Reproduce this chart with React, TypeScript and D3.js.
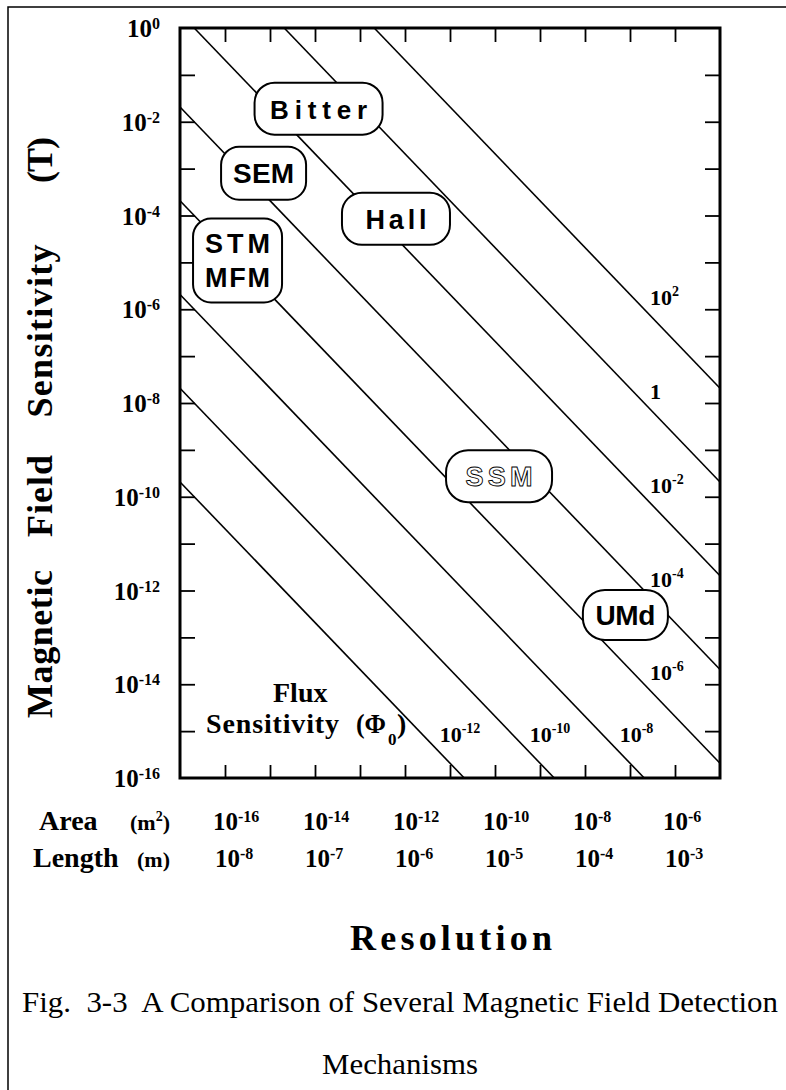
import React, { useEffect, useRef } from 'react';
import * as d3 from 'd3';

// flux levels, in units of the flux quantum
const fluxLevels = [1e2, 1, 1e-2, 1e-4, 1e-6, 1e-8, 1e-10, 1e-12];
const fluxExponents = ['2', '', '-2', '-4', '-6', '-8', '-10', '-12'];
const PHI0 = 2.07e-15;

const fieldTickExponents = [0, -2, -4, -6, -8, -10, -12, -14, -16];
const areaTickExponents = [-16, -14, -12, -10, -8, -6];
const lengthTickExponents = [-8, -7, -6, -5, -4, -3];

// detection mechanisms: resolution (area, m^2) and sensitivity (T)
const mechanisms = ['Bitter', 'SEM', 'Hall', 'STM MFM', 'SSM', 'UMd'];
const mechanismArea = [1.2e-14, 7.2e-16, 6.3e-13, 1.9e-16, 1.23e-10, 7.9e-8];
const mechanismField = [1.9e-2, 8e-4, 8.5e-5, 1.1e-5, 2.75e-10, 3e-13];

const W = 786;
const H = 1090;
const plot = { left: 180, top: 28, right: 720, bottom: 778 };
const serif = "'Liberation Serif', 'Times New Roman', serif";
const sans = "'Liberation Sans', Arial, sans-serif";

const boxStyle: Record<string, any> = {
	Bitter: { w: 128, h: 52, r: 20, size: 26, len: 97 },
	SEM: { w: 85, h: 53, r: 18, size: 28, len: 61 },
	Hall: { w: 108, h: 52, r: 20, size: 27, len: 61 },
	'STM MFM': { w: 89, h: 84, r: 18, size: 27, len: 65 },
	SSM: { w: 106, h: 52, r: 22, size: 27, len: 67, outline: true },
	UMd: { w: 85, h: 50, r: 22, size: 28, len: 60 },
};

const power = (sel: any, exp: string, base: number, sup: number, rise: number) => {
	sel.append('tspan').attr('font-size', base).text('10');
	sel.append('tspan').attr('font-size', sup).attr('dy', -rise).text(exp);
};

const drawChart = (el: SVGSVGElement) => {
	const svg = d3.select(el);

	svg.selectAll('*').remove();
	svg.attr('width', W).attr('height', H);
	svg.append('rect').attr('width', W).attr('height', H).attr('fill', '#fff');

	const x = d3.scaleLog().domain([1e-17, 1e-5]).range([plot.left, plot.right]);
	const y = d3.scaleLog().domain([1, 1e-16]).range([plot.top, plot.bottom]);

	// page frame
	svg.append('path')
		.attr('d', `M8,${ H } V7 H${ W }`)
		.attr('fill', 'none')
		.attr('stroke', '#000')
		.attr('stroke-width', 1.5);

	// constant flux lines
	const [aMin, aMax] = x.domain();
	const [bMax, bMin] = y.domain();
	const ends = (n: number) => {
		const f = n * PHI0;
		const a0 = Math.max(aMin, f / bMax);
		const a1 = Math.min(aMax, f / bMin);

		return [[a0, f / a0], [a1, f / a1]];
	};
	const line = d3.line<number[]>().x((d) => x(d[0]))
		.y((d) => y(d[1]));

	svg.append('g')
		.selectAll('path')
		.data(fluxLevels)
		.join('path')
		.attr('d', (n) => line(ends(n)))
		.attr('fill', 'none')
		.attr('stroke', '#000')
		.attr('stroke-width', 1.6);

	// flux labels
	const fluxLabels = svg.append('g')
		.attr('font-family', serif)
		.attr('font-weight', 'bold');

	fluxLevels.forEach((n, i) => {
		const f = n * PHI0;
		const bRight = f / aMax;
		let lx;
		let ly;

		if (bRight >= bMin) {
			lx = plot.right - 70;
			ly = y(f / x.invert(lx)) - 10;
		} else {
			ly = plot.bottom - 36;
			lx = x(f / y.invert(ly)) + 10;
		}
		const t = fluxLabels.append('text').attr('x', lx)
			.attr('y', ly);

		if (fluxExponents[i] === '') {
			t.attr('font-size', 22).text('1');
		} else {
			power(t, fluxExponents[i], 22, 14, 9);
		}
	});

	// frame ticks
	const xTicks = d3.range(-16, -5).map((e) => Math.pow(10, e));
	const yTicks = d3.range(-15, 0).map((e) => Math.pow(10, e));
	const axes = [
		[d3.axisTop(x).tickValues(xTicks).tickSize(-14), `translate(0,${ plot.top })`],
		[d3.axisBottom(x).tickValues(xTicks).tickSize(-13), `translate(0,${ plot.bottom })`],
		[d3.axisLeft(y).tickValues(yTicks).tickSize(-15), `translate(${ plot.left },0)`],
		[d3.axisRight(y).tickValues(yTicks).tickSize(-15), `translate(${ plot.right },0)`],
	];

	axes.forEach(([axis, tr]: any) => {
		const g = svg.append('g').attr('transform', tr)
			.call(axis.tickFormat(() => ''));

		g.select('.domain').remove();
		g.selectAll('line').attr('stroke-width', 1.8);
	});

	svg.append('rect')
		.attr('x', plot.left)
		.attr('y', plot.top)
		.attr('width', plot.right - plot.left)
		.attr('height', plot.bottom - plot.top)
		.attr('fill', 'none')
		.attr('stroke', '#000')
		.attr('stroke-width', 3);

	// mechanism boxes
	const boxes = svg.append('g')
		.selectAll('g')
		.data(mechanisms)
		.join('g')
		.attr('transform', (d, i) => `translate(${ x(mechanismArea[i]) },${ y(mechanismField[i]) })`);

	boxes.append('rect')
		.attr('x', (d) => -boxStyle[d].w / 2)
		.attr('y', (d) => -boxStyle[d].h / 2)
		.attr('width', (d) => boxStyle[d].w)
		.attr('height', (d) => boxStyle[d].h)
		.attr('rx', (d) => boxStyle[d].r)
		.attr('fill', '#fff')
		.attr('stroke', '#000')
		.attr('stroke-width', 2);

	boxes.each(function (d) {
		const s = boxStyle[d];
		const words = d.split(' ');
		const g = d3.select(this);

		words.forEach((w, k) => {
			const off = words.length > 1 ? (k === 0 ? -7 : 27) : 10;

			g.append('text')
				.attr('x', 0)
				.attr('y', off)
				.attr('text-anchor', 'middle')
				.attr('font-family', sans)
				.attr('font-weight', 'bold')
				.attr('font-size', s.size)
				.attr('textLength', s.len)
				.attr('lengthAdjust', 'spacing')
				.attr('fill', s.outline ? '#fff' : '#000')
				.attr('stroke', s.outline ? '#000' : 'none')
				.attr('stroke-width', 0.9)
				.text(w);
		});
	});

	// field tick labels
	const yLabels = svg.append('g')
		.attr('font-family', serif)
		.attr('font-weight', 'bold')
		.attr('text-anchor', 'end');

	fieldTickExponents.forEach((e) => {
		const t = yLabels.append('text').attr('x', 160)
			.attr('y', y(Math.pow(10, e)) + 9);

		power(t, String(e), 25, 16, 8);
	});

	// resolution rows
	const rows = svg.append('g')
		.attr('font-family', serif)
		.attr('font-weight', 'bold');

	areaTickExponents.forEach((e) => {
		const t = rows.append('text').attr('x', x(Math.pow(10, e)) - 12)
			.attr('y', 830);

		power(t, String(e), 25, 16, 8);
	});
	lengthTickExponents.forEach((e) => {
		const t = rows.append('text').attr('x', x(Math.pow(10, 2 * e)) - 10)
			.attr('y', 867);

		power(t, String(e), 25, 16, 8);
	});

	rows.append('text').attr('x', 39)
		.attr('y', 830)
		.attr('font-size', 28)
		.text('Area');
	const m2 = rows.append('text').attr('x', 130)
		.attr('y', 830)
		.attr('font-size', 22);

	m2.append('tspan').text('(m');
	m2.append('tspan').attr('font-size', 14)
		.attr('dy', -9)
		.text('2');
	m2.append('tspan').attr('dy', 9)
		.text(')');

	rows.append('text').attr('x', 33)
		.attr('y', 867)
		.attr('font-size', 28)
		.text('Length');
	rows.append('text').attr('x', 137)
		.attr('y', 867)
		.attr('font-size', 22)
		.text('(m)');

	// flux sensitivity caption inside the plot
	const fs = svg.append('g')
		.attr('font-family', serif)
		.attr('font-weight', 'bold')
		.attr('font-size', 28);

	fs.append('text').attr('x', 273)
		.attr('y', 702)
		.text('Flux');
	fs.append('text').attr('x', 206)
		.attr('y', 733)
		.attr('textLength', 133)
		.attr('lengthAdjust', 'spacing')
		.text('Sensitivity');
	fs.append('text').attr('x', 356)
		.attr('y', 733)
		.attr('textLength', 30)
		.attr('lengthAdjust', 'spacingAndGlyphs')
		.text('(\u03A6');
	fs.append('text').attr('x', 388)
		.attr('y', 745)
		.attr('font-size', 17)
		.text('0');
	fs.append('text').attr('x', 397)
		.attr('y', 733)
		.text(')');

	// left title
	const titleWords = ['Magnetic', 'Field', 'Sensitivity', '(T)'];
	const titleCenter = [644, 496, 331, 160];
	const titleLen = [148, 82, 173, 46];

	svg.append('g')
		.attr('font-family', serif)
		.attr('font-weight', 'bold')
		.attr('font-size', 36)
		.selectAll('text')
		.data(titleWords)
		.join('text')
		.attr('transform', (d, i) => `translate(52,${ titleCenter[i] }) rotate(-90)`)
		.attr('text-anchor', 'middle')
		.attr('textLength', (d, i) => titleLen[i])
		.attr('lengthAdjust', 'spacing')
		.text((d) => d);

	// bottom titles
	svg.append('text')
		.attr('x', 451)
		.attr('y', 950)
		.attr('text-anchor', 'middle')
		.attr('font-family', serif)
		.attr('font-weight', 'bold')
		.attr('font-size', 36)
		.attr('textLength', 202)
		.attr('lengthAdjust', 'spacing')
		.text('Resolution');

	svg.append('text')
		.attr('x', 22)
		.attr('y', 1012)
		.attr('font-family', serif)
		.attr('font-size', 30)
		.attr('textLength', 756)
		.attr('lengthAdjust', 'spacingAndGlyphs')
		.style('white-space', 'pre')
		.text('Fig.  3-3  A Comparison of Several Magnetic Field Detection');

	svg.append('text')
		.attr('x', 400)
		.attr('y', 1074)
		.attr('text-anchor', 'middle')
		.attr('font-family', serif)
		.attr('font-size', 30)
		.attr('textLength', 156)
		.attr('lengthAdjust', 'spacingAndGlyphs')
		.text('Mechanisms');
};

const App = () => {
	const ref = useRef<SVGSVGElement>(null);

	useEffect(() => {
		if (ref.current) {
			drawChart(ref.current);
		}
	}, []);

	return (
		<svg ref={ ref } style={ { position: 'absolute', left: 0, top: 0, display: 'block' } }/>
	);
};

export default App;
